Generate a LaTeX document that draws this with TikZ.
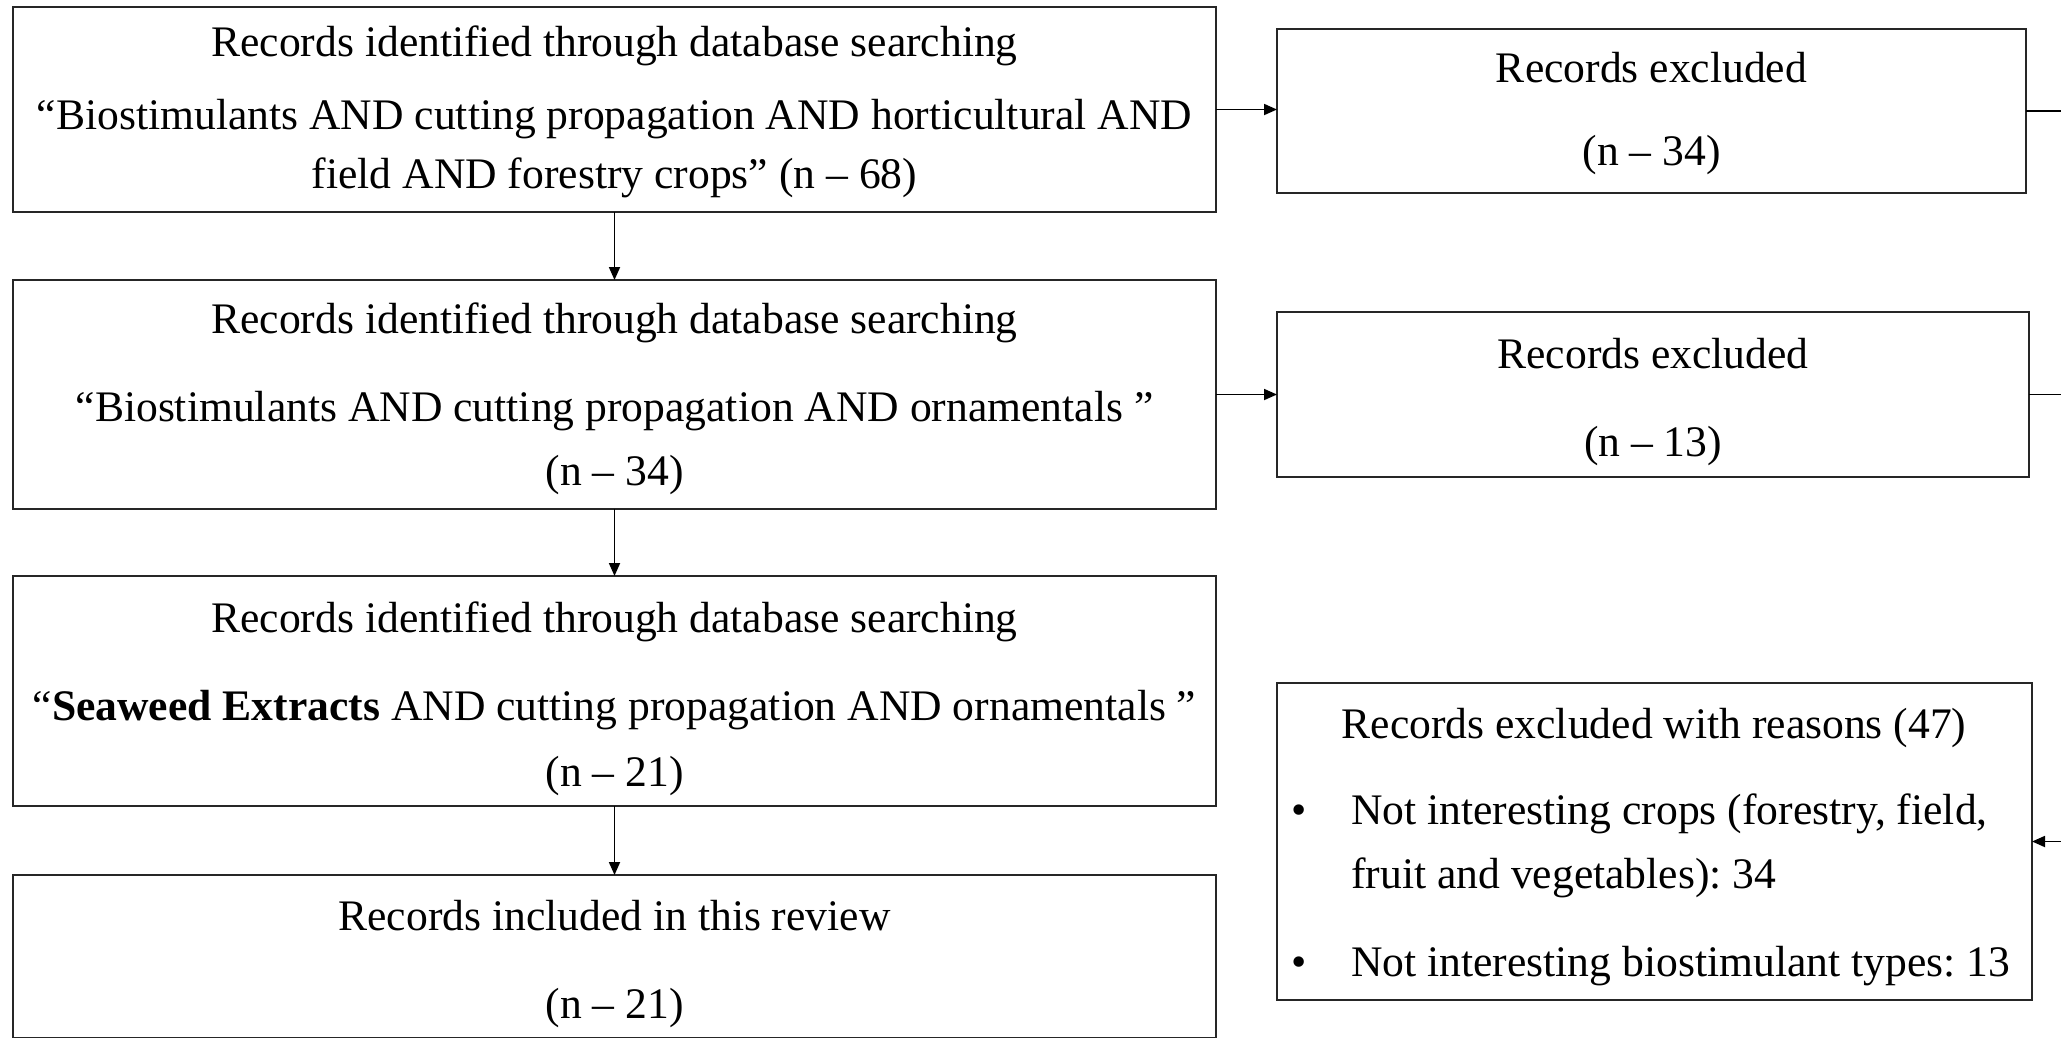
\documentclass[tikz,border=0pt]{standalone}
\usepackage{fontspec}
\setmainfont{Liberation Serif}
\usetikzlibrary{arrows.meta}
\frenchspacing
\begin{document}
\begin{tikzpicture}[x=1pt,y=-1pt,
  box/.style={draw=black!85, line width=2.6pt, rectangle, inner sep=0pt, outer sep=0pt},
  txt/.style={anchor=base, inner sep=0pt, font=\fontsize{43.6}{52}\selectfont},
  ltxt/.style={txt, anchor=base west},
  arr/.style={draw=black, line width=1.8pt, -{Triangle[length=13pt,width=11pt]}},
  ln/.style={draw=black, line width=1.8pt}]
\useasboundingbox[fill=white] (0,0) rectangle (2061,1037);
% boxes
\node[box, minimum width=1203pt, minimum height=205pt] (A) at (614.5,109.5) {};
\node[box, minimum width=1203pt, minimum height=229pt] (B) at (614.5,394.5) {};
\node[box, minimum width=1203pt, minimum height=230pt] (C) at (614.5,691) {};
\node[box, minimum width=1203pt, minimum height=163pt] (D) at (614.5,956.5) {};
\node[box, minimum width=749pt, minimum height=164pt] (E1) at (1651.5,111) {};
\node[box, minimum width=752pt, minimum height=165pt] (E2) at (1653,394.5) {};
\node[box, minimum width=755pt, minimum height=317pt] (R) at (1654.5,841.5) {};
% texts
\node[txt] (a1) at (614.5,56) {Records identified through database searching};
\node[txt] (a2) at (614.5,129) {“Biostimulants AND cutting propagation AND horticultural AND};
\node[txt] (a3) at (614.5,188) {field AND forestry crops” (n – 68)};
\node[txt] (b1) at (614.5,333) {Records identified through database searching};
\node[txt] (b2) at (614.5,421) {“Biostimulants AND cutting propagation AND ornamentals ”};
\node[txt] (b3) at (614.5,485) {(n – 34)};
\node[txt] (c1) at (614.5,632) {Records identified through database searching};
\node[txt] (c2) at (614.5,720) {“\textbf{Seaweed Extracts} AND cutting propagation AND ornamentals ”};
\node[txt] (c3) at (614.5,786) {(n – 21)};
\node[txt] (d1) at (614.5,930) {Records included in this review};
\node[txt] (d2) at (614.5,1018) {(n – 21)};
\node[txt] (e11) at (1651.5,82) {Records excluded};
\node[txt] (e12) at (1651.5,165) {(n – 34)};
\node[txt] (e21) at (1653,368) {Records excluded};
\node[txt] (e22) at (1653,456) {(n – 13)};
\node[txt] (r1) at (1654,738) {Records excluded with reasons (47)};
\node[txt] (rb1) at (1299,824) {•};
\node[ltxt] (r2) at (1351,824) {Not interesting crops (forestry, field,};
\node[ltxt] (r3) at (1351,888) {fruit and vegetables): 34};
\node[txt] (rb2) at (1299,976) {•};
\node[ltxt] (r4) at (1351,976) {Not interesting biostimulant types: 13};
% connectors
\coordinate (edge) at (2061,0);
\draw[arr] (A.south) -- (B.north);
\draw[arr] (B.south) -- (C.north);
\draw[arr] (C.south) -- (D.north);
\draw[arr] (A.east) -- (A.east -| E1.west);
\draw[arr] (B.east) -- (B.east -| E2.west);
\draw[ln] (E1.east) -- (E1.east -| edge);
\draw[ln] (E2.east) -- (E2.east -| edge);
\draw[arr] (R.east -| edge) -- (R.east);
\end{tikzpicture}
\end{document}
